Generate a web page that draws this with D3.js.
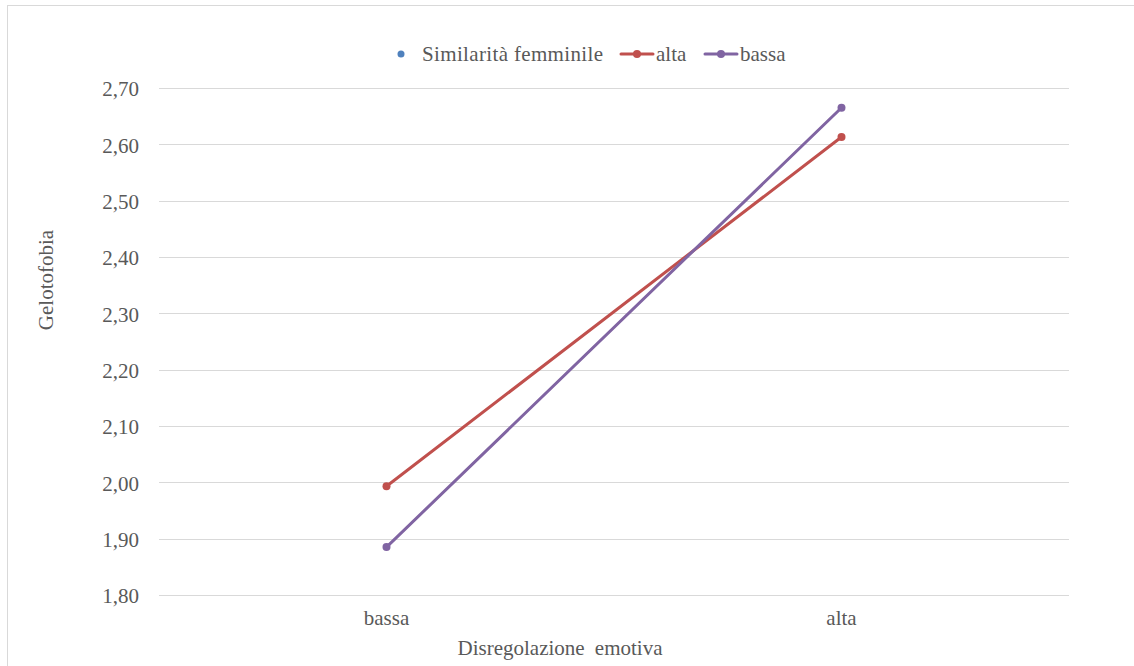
<!DOCTYPE html>
<html>
<head>
<meta charset="utf-8">
<script src="https://cdn.jsdelivr.net/npm/d3@7/dist/d3.min.js"></script>
</head>
<body style="margin:0; background:#fff">
<svg id="chart" width="1134" height="666"></svg>
<script>
// Categories on the x axis (Disregolazione emotiva)
const categories = ["bassa", "alta"];
// Gelotofobia means for each level of Similarità femminile
const altaValues = [1.993, 2.613];
const bassaValues = [1.885, 2.665];
const seriesNames = ["alta", "bassa"];
const seriesColors = ["#C0504D", "#8064A2"];
const yTicks = [1.80, 1.90, 2.00, 2.10, 2.20, 2.30, 2.40, 2.50, 2.60, 2.70];

const series = [
  { name: seriesNames[0], color: seriesColors[0], values: altaValues },
  { name: seriesNames[1], color: seriesColors[1], values: bassaValues }
];

const FONT_FAMILY = '"Times New Roman", "Tinos", "Liberation Serif", "DejaVu Serif"';
const FONT_SIZE = 21;
const TEXT_COLOR = "#595959";
const svg = d3.select("#chart");

// outer frame
svg.append("rect")
  .attr("x", 7.5).attr("y", 5.5)
  .attr("width", 1140).attr("height", 680)
  .attr("fill", "#fff").attr("stroke", "#d9d9d9").attr("stroke-width", 1);

const plot = { left: 159, right: 1069, top: 88, bottom: 595 };

const x = d3.scaleBand().domain(categories).range([plot.left, plot.right]);
const y = d3.scaleLinear().domain([1.80, 2.70]).range([plot.bottom, plot.top]);

// horizontal gridlines
svg.append("g").selectAll("line").data(yTicks).join("line")
  .attr("x1", plot.left).attr("x2", plot.right)
  .attr("y1", d => Math.round(y(d)) + 0.5).attr("y2", d => Math.round(y(d)) + 0.5)
  .attr("stroke", "#d9d9d9").attr("stroke-width", 1);

function styleText(sel) {
  sel.style("font-family", FONT_FAMILY)
     .attr("font-size", FONT_SIZE)
     .attr("fill", TEXT_COLOR);
}

// y axis labels
const yAxis = d3.axisLeft(y).tickValues(yTicks)
  .tickFormat(d => d3.format(".2f")(d).replace(".", ","))
  .tickSize(0).tickPadding(0);
const yg = svg.append("g").attr("transform", `translate(${plot.left - 20},1)`).call(yAxis);
yg.attr("font-family", null).attr("font-size", FONT_SIZE);
yg.select(".domain").remove();
yg.selectAll("text").call(styleText);

// x axis labels
const xAxis = d3.axisBottom(x).tickSize(0).tickPadding(0);
const xg = svg.append("g").attr("transform", `translate(0,${plot.bottom + 15})`).call(xAxis);
xg.attr("font-family", null).attr("font-size", FONT_SIZE);
xg.select(".domain").remove();
xg.selectAll("text").call(styleText);

// axis titles
svg.append("text")
  .attr("transform", "translate(53,280) rotate(-90)")
  .attr("text-anchor", "middle")
  .call(styleText)
  .text("Gelotofobia");

svg.append("text")
  .attr("x", 560).attr("y", 655)
  .attr("text-anchor", "middle")
  .attr("word-spacing", 5)
  .call(styleText)
  .text("Disregolazione emotiva");

// series lines and markers
const line = d3.line()
  .x((d, i) => x(categories[i]) + x.bandwidth() / 2)
  .y(d => y(d));

const sg = svg.append("g").selectAll("g").data(series).join("g");
sg.append("path")
  .attr("d", d => line(d.values))
  .attr("fill", "none").attr("stroke", d => d.color)
  .attr("stroke-width", 3).attr("stroke-linecap", "round");
sg.selectAll("circle").data(d => d.values.map((v, i) => ({ v, i, color: d.color }))).join("circle")
  .attr("cx", d => x(categories[d.i]) + x.bandwidth() / 2)
  .attr("cy", d => y(d.v))
  .attr("r", 4).attr("fill", d => d.color);

// legend
const lg = svg.append("g").attr("transform", "translate(0,54)");
lg.append("circle").attr("cx", 401).attr("cy", 0).attr("r", 3.5).attr("fill", "#4F81BD");
lg.append("text").attr("x", 422).attr("y", 7)
  .attr("textLength", 181).attr("lengthAdjust", "spacing")
  .call(styleText)
  .text("Similarità femminile");

const legendItems = [
  { name: seriesNames[0], color: seriesColors[0], x0: 621 },
  { name: seriesNames[1], color: seriesColors[1], x0: 705 }
];
const li = lg.selectAll("g.item").data(legendItems).join("g").attr("class", "item");
li.append("line")
  .attr("x1", d => d.x0).attr("x2", d => d.x0 + 32)
  .attr("y1", 0).attr("y2", 0)
  .attr("stroke", d => d.color).attr("stroke-width", 3).attr("stroke-linecap", "round");
li.append("circle").attr("cx", d => d.x0 + 16).attr("cy", 0).attr("r", 4).attr("fill", d => d.color);
li.append("text").attr("x", d => d.x0 + 35).attr("y", 7).call(styleText).text(d => d.name);
</script>
</body>
</html>
